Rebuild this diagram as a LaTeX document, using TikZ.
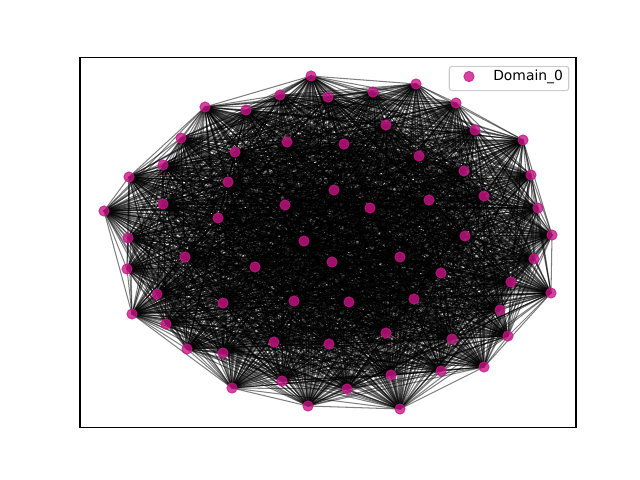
\documentclass[tikz,border=0pt]{standalone}
\usepackage{fontspec}
\setmainfont{DejaVu Sans}
\usepackage{tikz}
\usetikzlibrary{calc}

\definecolor{mvred}{RGB}{199,21,133}
\definecolor{legendgray}{RGB}{204,204,204}

\pgfdeclarelayer{bg}
\pgfsetlayers{bg,main}

\tikzset{
  vertex/.style={circle, fill=mvred, draw=mvred, opacity=0.8, line width=0.6pt,
    inner sep=0pt, minimum size=7.4pt},
  edge/.style={black, opacity=0.5, line width=0.75pt},
}

\begin{document}
\begin{tikzpicture}[x=0.72pt,y=-0.72pt]

\useasboundingbox (0,0) rectangle (640,480);

% Vertices of Domain_0
\foreach \px/\py [count=\n] in {
  311/76, 416/84, 456/103, 280/95, 328/97, 373/92, 205/107, 246/110,
  386/125, 475/130, 523/140, 181/138, 235/152, 287/142, 344/144, 419/156,
  464/171, 531/175, 129/177, 163/165, 228/182, 334/190, 429/200, 484/196,
  104/211, 163/204, 218/218, 285/205, 370/208, 538/208, 128/238, 465/236,
  552/235, 304/241, 185/257, 127/269, 400/257, 255/267, 332/262, 441/273,
  534/259, 511/282, 157/294, 551/293, 294/301, 349/302, 414/299, 223/303,
  132/314, 166/324, 500/310, 386/333, 508/336, 274/342, 329/344, 452/339,
  187/349, 223/353, 441/371, 484/367, 391/375, 282/381, 347/389, 232/388,
  308/406, 400/409}
  \node[vertex] (v\n) at (\px,\py) {};

% Edges (every pair), below the vertices
\begin{pgfonlayer}{bg}
\foreach \i in {1,...,65}{
  \pgfmathtruncatemacro\k{\i+1}
  \foreach \j in {\k,...,66}
    \draw[edge] (v\i.center) -- (v\j.center);
}
\end{pgfonlayer}

% Axes frame
\draw[line width=0.8pt] (80,57.6) rectangle (576,427.2);

% Legend
\node[draw=legendgray, fill=white, fill opacity=0.8, text opacity=1,
  rounded corners=2pt, line width=0.8pt, minimum width=86pt, minimum height=17.5pt]
  (legend) at (509,78.5) {};
\node[vertex] (legendmark) at (469,76.5) {};
\node[anchor=west, inner sep=0pt, font=\fontsize{10pt}{12pt}\selectfont]
  (legendtext) at (493,77) {Domain\_0};

\end{tikzpicture}
\end{document}
